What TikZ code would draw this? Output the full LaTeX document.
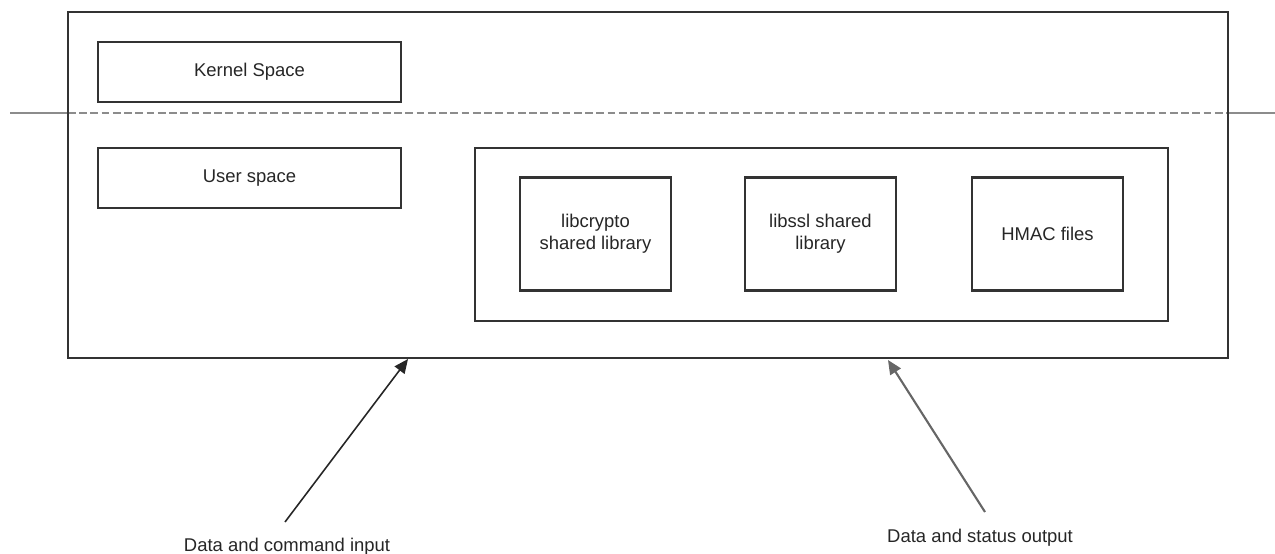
\documentclass[tikz,border=0pt]{standalone}
\usepackage{fontspec}
\setmainfont{Liberation Sans}
\usetikzlibrary{arrows.meta}
\begin{document}
\begin{tikzpicture}[x=0.02cm,y=-0.02cm]

\tikzstyle{every node} = [font=\fontsize{10.5}{12.5}\selectfont,text=black!85]
\tikzstyle{boxline} = [draw=black!80,line width=1.6pt]
\tikzstyle{spacebox} = [boxline,minimum width=6.06cm,minimum height=1.2cm,inner sep=0]
\tikzstyle{libbox} = [boxline,minimum width=3.02cm,minimum height=2.26cm,align=center,inner sep=0]
\tikzstyle{iolabel} = [anchor=base,inner sep=0]
\tikzstyle{ioarrow} = [-{Triangle[length=8pt,width=7pt]}]

\useasboundingbox (0,0) rectangle (1275,554);

% kernel / user divider
\draw [black!45,line width=1.7pt] (10,113) -- (68,113);
\draw [black!45,line width=1.7pt,dash pattern=on 4.4pt off 2pt] (68,113) -- (1228,113);
\draw [black!45,line width=1.7pt] (1228,113) -- (1275,113);

\node [boxline,line width=1.3pt,minimum width=23.2cm,minimum height=6.92cm] (system) at (648,185) {};

\node [spacebox] (kernel) at (249.5,72) {Kernel Space};
\node [spacebox] (user) at (249.5,178) {User space};

\node [boxline,minimum width=13.86cm,minimum height=3.46cm] (module) at (821.5,234.5) {};
\node [libbox] (libcrypto) at (595.5,234) {libcrypto\\shared library};
\node [libbox] (libssl) at (820.5,234) {libssl shared\\library};
\node [libbox] (hmac) at (1047.5,234) {HMAC files};

\node [iolabel] (inLabel) at (287,551) {Data and command input};
\node [iolabel] (outLabel) at (980,542) {Data and status output};

\coordinate (inTail) at (285,522);
\coordinate (inHead) at (408,359);
\coordinate (outTail) at (985,512);
\coordinate (outHead) at (888,360);

\draw [ioarrow,black!85,line width=0.9pt] (inTail) -- (inHead);
\draw [ioarrow,black!60,line width=1.2pt] (outTail) -- (outHead);
\end{tikzpicture}
\end{document}
